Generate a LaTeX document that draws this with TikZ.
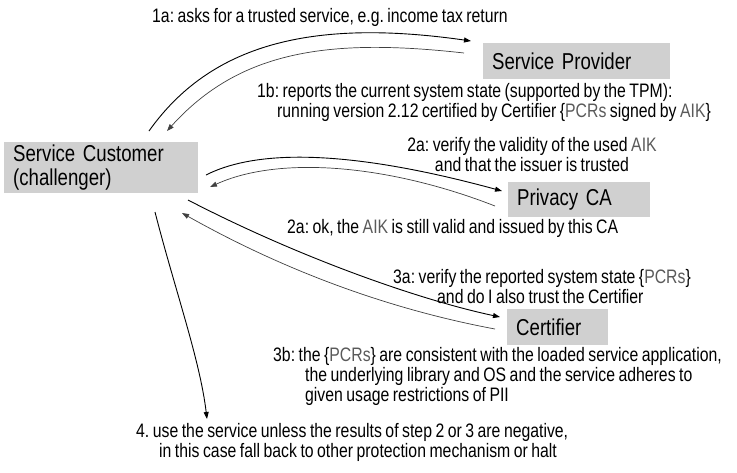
\documentclass[tikz,border=0pt]{standalone}
\usepackage{fontspec}
\setmainfont{Liberation Sans}[FakeStretch=0.81,WordSpace=0.8]
\usetikzlibrary{arrows.meta}
\frenchspacing
\definecolor{boxgray}{HTML}{D0D0D0}
\definecolor{hl}{HTML}{5A5A5A}
\definecolor{backline}{HTML}{404040}
\tikzset{
  box/.style={fill=boxgray, draw=none, anchor=north west, inner xsep=9pt, inner ysep=0pt, align=left, font={\frenchspacing\fontsize{23}{24}\selectfont\spaceskip=5pt plus 0pt minus 0pt}},
  lbl/.style={inner sep=0pt, font={\frenchspacing\fontsize{19.5}{20}\selectfont}},
  fwd/.style={draw=black, line width=0.9pt, -{Triangle[length=7pt,width=5pt]}},
  bwd/.style={draw=backline, line width=0.7pt, -{Triangle[length=7pt,width=5pt]}}
}
\newcommand{\hlt}[1]{\textcolor{hl}{#1}}
\begin{document}
\begin{tikzpicture}[x=1pt,y=-1pt]
\useasboundingbox (0,0) rectangle (737,472);
% boxes
\node[box, text width=169pt, minimum height=36pt] (sp) at (483,43) {Service Provider};
\node[box, text width=176pt, minimum height=51pt] (sc) at (4,142) {Service Customer\\(challenger)};
\node[box, text width=124pt, minimum height=35pt] (pca) at (508,182) {Privacy CA};
\node[box, text width=83pt, minimum height=36pt] (cert) at (507,309) {Certifier};
% labels
\node[lbl, anchor=west] (t1a) at (152,17) {1a: asks for a trusted service, e.g. income tax return};
\node[lbl, anchor=west, align=left] (t1b) at (257,102) {1b: reports the current system state (supported by the TPM):\\\hspace*{20pt}running version 2.12 certified by Certifier \{\hlt{PCRs} signed by \hlt{AIK}\}};
\node[lbl, align=center] (t2a) at (532,155) {2a: verify the validity of the used \hlt{AIK}\\and that the issuer is trusted};
\node[lbl, anchor=west] (t2b) at (287,228) {2a: ok, the \hlt{AIK} is still valid and issued by this CA};
\node[lbl, anchor=west, align=left] (t3a) at (393,287) {3a: verify the reported system state \{\hlt{PCRs}\}\\\hspace*{44pt}and do I also trust the Certifier};
\node[lbl, anchor=west, align=left] (t3b) at (273,376) {3b: the \{\hlt{PCRs}\} are consistent with the loaded service application,\\\hspace*{32pt}the underlying library and OS and the service adheres to\\\hspace*{32pt}given usage restrictions of PII};
\node[lbl, anchor=west, align=left] (t4) at (136,442) {4. use the service unless the results of step 2 or 3 are negative,\\\hspace*{23pt}in this case fall back to other protection mechanism or halt};
% connector end points
\coordinate (c1as) at (149,131);
\coordinate (c1ae) at (471,41);
\coordinate (c1bs) at (464,53);
\coordinate (c1be) at (167,131);
\coordinate (c2as) at (206,175);
\coordinate (c2ae) at (502,191);
\coordinate (c2bs) at (495,206);
\coordinate (c2be) at (210,187);
\coordinate (c3as) at (188,200);
\coordinate (c3ae) at (500,317);
\coordinate (c3bs) at (495,329);
\coordinate (c3be) at (182,213);
\coordinate (c4s) at (155,212);
\coordinate (c4e) at (207,419);
% connectors
\draw[fwd] (c1as) .. controls (210,45) and (310,18) .. (c1ae);
\draw[bwd] (c1bs) .. controls (330,38) and (240,50) .. (c1be);
\draw[fwd] (c2as) .. controls (265,145) and (370,155) .. (c2ae);
\draw[bwd] (c2bs) .. controls (390,165) and (280,155) .. (c2be);
\draw[fwd] (c3as) .. controls (300,258) and (420,300) .. (c3ae);
\draw[bwd] (c3bs) .. controls (420,315) and (310,285) .. (c3be);
\draw[fwd] (c4s) .. controls (175,290) and (200,360) .. (c4e);
\end{tikzpicture}
\end{document}
